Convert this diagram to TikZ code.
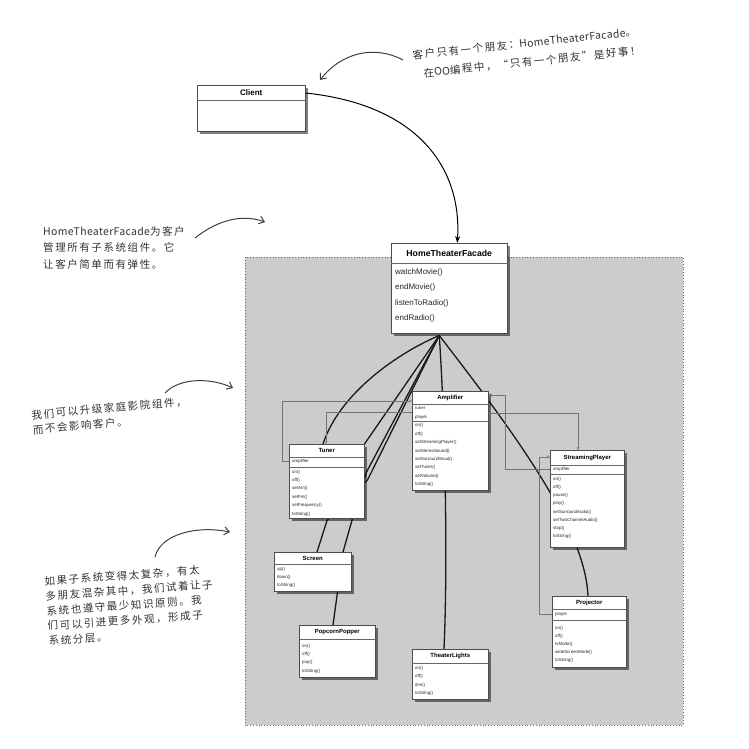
\documentclass[tikz,border=0pt]{standalone}
\usepackage{fontspec}
\setsansfont{Liberation Sans}
\newfontfamily\cjk[LetterSpace=15]{Noto Sans CJK SC}
\newfontfamily\cjklat[LetterSpace=3]{Noto Sans CJK SC}
\usepackage{tikz}
\usetikzlibrary{arrows.meta, positioning, calc, shadows}
\pgfdeclarelayer{background}
\pgfsetlayers{background,main}

% class box: [title font] name, x, y, width, height, header height, title
\newcommand{\umlclass}[8][]{%
  \node[classbox, minimum width=#5pt, minimum height=#6pt] (#2) at (#3,#4) {};
  \node[classtitle,#1] (#2-title) at ($(#2.north)+(0,#7/2)$) {#8};
  \draw[divider] ($(#2.north west)+(0,#7)$) -- ($(#2.north east)+(0,#7)$);
}
% rows of a class: [font] prefix, x, first y, step, list
\newcommand{\umlmembers}[6][]{%
  \foreach \m [count=\i from 0] in {#6}
    \node[member,#1] (#2-\i) at (#3,#4+#5*\i) {\m};
}

\begin{document}
\begin{tikzpicture}[x=1pt, y=-1pt,
  classbox/.style={draw=black!70, fill=white, line width=0.5pt, inner sep=0pt, anchor=north west,
    drop shadow={shadow xshift=2.5pt, shadow yshift=-2.5pt, opacity=0.5, fill=black}},
  classtitle/.style={font=\sffamily\bfseries\fontsize{6}{7}\selectfont, inner sep=0pt},
  divider/.style={draw=black!60, line width=0.4pt},
  member/.style={anchor=west, inner sep=0pt, font=\sffamily\fontsize{4.4}{5}\selectfont, text=black!85},
  assoc/.style={line width=1.3pt, black!90},
  dep/.style={draw=black!55, line width=0.45pt, -{Triangle[open, length=3pt, width=3pt]}},
  note/.style={font=\cjk\fontsize{10.5}{15}\selectfont, text=black!80, align=left, anchor=north west, inner sep=0pt},
  pointer/.style={line width=1pt, black!75, -{Straight Barb[length=5pt, width=8pt]}}]

  \useasboundingbox (0,0) rectangle (749,748);

  % facade and client
  \umlclass[font=\sffamily\bfseries\fontsize{8}{9}\selectfont]{client}{197}{85}{108}{46}{15}{Client}
  \umlclass[font=\sffamily\bfseries\fontsize{8.7}{10}\selectfont]{facade}{391}{243}{116}{90}{20}{HomeTheaterFacade}
  \umlmembers[font=\sffamily\fontsize{8}{9}\selectfont]{facade-m}{395}{272}{15.6}{watchMovie(),endMovie(),listenToRadio(),endRadio()}

  % subsystem classes
  \umlclass{amplifier}{412}{391}{76}{99}{13}{Amplifier}
  \umlmembers{amplifier-a}{415}{408.5}{8.5}{tuner,player}
  \draw[divider] ($(amplifier.north west)+(0,30)$) -- ($(amplifier.north east)+(0,30)$);
  \umlmembers{amplifier-m}{415}{425.5}{8.45}{on(),off(),setStreamingPlayer(),setStereoSound(),setSurroundSoud(),setTuner(),setVolume(),toString()}

  \umlclass{tuner}{289}{444}{75}{74}{13}{Tuner}
  \umlmembers{tuner-a}{292}{461.5}{8.4}{amplifier}
  \draw[divider] ($(tuner.north west)+(0,23)$) -- ($(tuner.north east)+(0,23)$);
  \umlmembers{tuner-m}{292}{472}{8.4}{on(),off(),setAm(),setFm(),setFrequency(),toString()}

  \umlclass{player}{550}{450}{74}{97}{15}{StreamingPlayer}
  \umlmembers{player-a}{553}{469.5}{8}{amplifier}
  \draw[divider] ($(player.north west)+(0,24.5)$) -- ($(player.north east)+(0,24.5)$);
  \umlmembers{player-m}{553}{479}{8.25}{on(),off(),pause(),play(),setSurroundAudio(),setTwoChannelAudio(),stop(),toString()}

  \umlclass{screen}{274}{552}{77}{39}{12}{Screen}
  \umlmembers{screen-m}{277}{569}{8}{up(),down(),toString()}

  \umlclass{popper}{299}{625}{76}{52}{14}{PopcornPopper}
  \umlmembers{popper-m}{302}{646}{8.3}{on(),off(),pop(),toString()}

  \umlclass{lights}{412}{649}{76}{50}{14}{TheaterLights}
  \umlmembers{lights-m}{415}{668}{8.5}{on(),off(),dim(),toString()}

  \umlclass{projector}{552}{596}{74}{71}{13}{Projector}
  \umlmembers{projector-a}{555}{614}{8}{player}
  \draw[divider] ($(projector.north west)+(0,24)$) -- ($(projector.north east)+(0,24)$);
  \umlmembers{projector-m}{555}{628}{8.2}{on(),off(),tvMode(),wideScreenMode(),toString()}

  \begin{pgfonlayer}{background}
    \fill[white] (0,0) rectangle (749,748);
    % subsystem area
    \fill[black!20] (245,257) rectangle (683,725);
    \draw[black!60, dotted, line width=0.8pt] (245,257) rectangle (683,725);
    % lines from the facade, under the boxes
    \coordinate (hub) at ($(facade.south)+(-10,2)$);
    \draw[assoc] (hub) .. controls (400,352) and (340,392) .. ($(tuner.north west)+(34,0)$);
    \draw[assoc] (hub) -- (tuner.north east);
    \draw[assoc] (hub) -- ($(tuner.north east)+(2,28)$) -- ($(tuner.south east)+(-12,0)$)
      -- ($(screen.north west)+(69,0)$) -- ($(popper.north west)+(34,0)$);
    \draw[assoc] (hub) -- ($(tuner.north east)+(3,36)$) -- ($(tuner.south west)+(38,2)$)
      -- ($(screen.north west)+(43,0)$);
    \draw[assoc] ($(hub)+(2,0)$) -- ($(hub)+(2,0)$ |- amplifier.north);
    \draw[assoc] (hub) .. controls (445,420) and (448,560) .. ($(lights.north west)+(32,0)$);
    \draw[assoc] (hub) .. controls (520,440) and (585,530) .. ($(projector.north west)+(36,0)$);
  \end{pgfonlayer}

  % references between subsystem classes
  \draw[dep] (tuner.west |- tuner-a-0) -- ++(-7,0) |- ($(amplifier.north west)+(0,10)$);
  \draw[dep] ($(amplifier.north west)+(0,21)$) -| ($(tuner.north west)+(37,0)$);
  \draw[dep] ($(amplifier.north east)+(0,22)$) -| ($(player.north west)+(28,0)$);
  \draw[dep] (player.west |- player-a-0) -- ++(-45,0) |- ($(amplifier.north east)+(0,4)$);
  \draw[dep] (projector.west |- projector-a-0) -- ++(-13,0) |- ($(player.north west)+(0,7)$);

  % client uses the facade
  \draw[line width=1pt, -{Stealth[length=7pt, width=5pt]}] ($(client.north east)+(0,8)$)
    .. controls (420,105) and (462,170) .. ($(facade.north)+(8,0)$);

  % notes
  \node[note, rotate=6, font=\cjk\fontsize{10.5}{19}\selectfont] (note1) at (412,50)
    {客户只有一个朋友：{\cjklat HomeTheaterFacade}。\\\hspace{9pt}在{\cjklat OO}编程中，“只有一个朋友”是好事！};
  \node[note, font=\cjk\fontsize{10.5}{16.5}\selectfont] (note2) at (43,226)
    {{\cjklat HomeTheaterFacade}为客户\\管理所有子系统组件。它\\让客户简单而有弹性。};
  \node[note, rotate=5] (note3) at (31,410) {我们可以升级家庭影院组件，\\而不会影响客户。};
  \node[note, rotate=4] (note4) at (44,576)
    {如果子系统变得太复杂，有太\\多朋友混杂其中，我们试着让子\\系统也遵守最少知识原则。我\\们可以引进更多外观，形成子\\系统分层。};

  \coordinate (note1-tail) at (403,60);  \coordinate (note1-tip) at (320,80);
  \coordinate (note2-tail) at (195,238); \coordinate (note2-tip) at (265,222);
  \coordinate (note3-tail) at (165,393); \coordinate (note3-tip) at (233,388);
  \coordinate (note4-tail) at (155,557); \coordinate (note4-tip) at (230,532);
  \draw[pointer] (note1-tail) .. controls (375,45) and (342,52) .. (note1-tip);
  \draw[pointer] (note2-tail) .. controls (215,222) and (240,213) .. (note2-tip);
  \draw[pointer] (note3-tail) .. controls (180,377) and (212,378) .. (note3-tip);
  \draw[pointer] (note4-tail) .. controls (160,535) and (195,525) .. (note4-tip);
\end{tikzpicture}
\end{document}
